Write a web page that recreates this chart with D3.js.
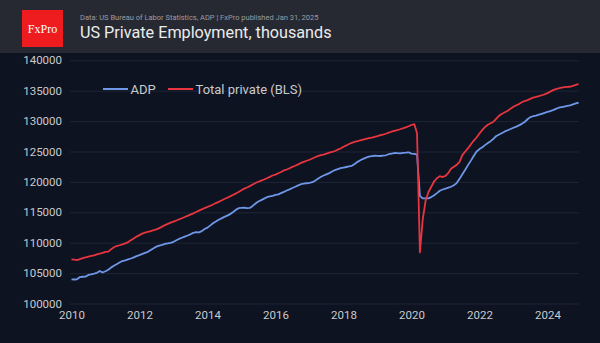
<!DOCTYPE html>
<html>
<head>
<meta charset="utf-8">
<script src="https://cdn.jsdelivr.net/npm/d3@7"></script>
<style>
  body { margin: 0; background: #0d1321; }
  svg { display: block; font-family: Roboto, "Noto Sans", sans-serif; }
</style>
</head>
<body>
<script>
// Monthly series, Jan 2010 .. Dec 2024 (thousands)
var startYear = 2010;

var adp = [
  103980, 103950, 103990, 104350, 104400, 104420, 104700, 104780, 104900, 105050, 105350, 105100,
  105300, 105550, 105900, 106200, 106450, 106750, 106980, 107100, 107250, 107400, 107580, 107800,
  107950, 108150, 108320, 108500, 108800, 109100, 109350, 109520, 109650, 109800, 109900, 109980,
  110150, 110400, 110620, 110820, 111000, 111180, 111380, 111620, 111720, 111700, 111900, 112250,
  112480, 112850, 113200, 113500, 113780, 114000, 114250, 114450, 114700, 115000, 115400, 115680,
  115720, 115750, 115700, 115720, 116050, 116450, 116780, 117000, 117250, 117480, 117620, 117720,
  117850, 117950, 118150, 118350, 118580, 118780, 119000, 119200, 119420, 119620, 119700, 119780,
  119850, 119950, 120200, 120500, 120800, 121050, 121250, 121450, 121700, 121950, 122100, 122250,
  122350, 122450, 122550, 122650, 122950, 123300, 123550, 123800, 124000, 124150, 124250, 124300,
  124280, 124260, 124320, 124380, 124550, 124650, 124750, 124720, 124700, 124780, 124820, 124870,
  124650, 124600, 124480, 117700, 117300, 117280, 117300, 117500, 117800, 118150, 118550, 118750,
  118900, 119050, 119200, 119450, 119800, 120500, 121250, 122000, 122800, 123500, 124300, 125000,
  125400, 125700, 126050, 126400, 126700, 127100, 127550, 127800, 128050, 128300, 128500, 128700,
  128900, 129100, 129300, 129550, 129850, 130300, 130650, 130800, 130900, 131050, 131200, 131350,
  131500, 131650, 131800, 132000, 132200, 132300, 132400, 132500, 132600, 132750, 132900, 133050
];

var blsPrivate = [
  107270, 107200, 107150, 107300, 107450, 107600, 107700, 107820, 107930, 108080, 108200, 108330,
  108480, 108520, 108900, 109250, 109450, 109580, 109720, 109880, 110100, 110400, 110700, 111000,
  111250, 111500, 111650, 111800, 111920, 112050, 112200, 112400, 112650, 112900, 113100, 113300,
  113480, 113650, 113850, 114020, 114220, 114420, 114620, 114830, 115060, 115280, 115480, 115700,
  115880, 116080, 116280, 116520, 116720, 116950, 117180, 117400, 117620, 117840, 118080, 118350,
  118640, 118900, 119080, 119300, 119560, 119820, 120020, 120220, 120400, 120600, 120820, 121050,
  121200, 121420, 121620, 121880, 122040, 122250, 122480, 122660, 122880, 123120, 123300, 123480,
  123640, 123850, 124050, 124240, 124400, 124500, 124640, 124800, 124920, 125080, 125300, 125500,
  125780, 126000, 126230, 126430, 126600, 126720, 126850, 126960, 127080, 127200, 127300, 127420,
  127530, 127680, 127780, 127920, 128090, 128250, 128380, 128510, 128660, 128820, 128960, 129150,
  129360, 129500, 128000, 108400, 113800, 116900, 118300, 119200, 120100, 120600, 120950, 120800,
  121000, 121500, 122150, 122500, 122800, 123300, 124400, 125000, 125550, 126200, 126800, 127300,
  127950, 128550, 129000, 129400, 129650, 129900, 130400, 130900, 131200, 131450, 131700, 132050,
  132370, 132600, 132800, 133100, 133300, 133450, 133650, 133880, 133980, 134100, 134250, 134400,
  134600, 134850, 135100, 135250, 135400, 135520, 135580, 135620, 135650, 135800, 135950, 136100
];

var seriesNames = ["ADP", "Total private (BLS)"];
var seriesColors = ["#6f97e8", "#e8353f"];
var yTicks = [100000, 105000, 110000, 115000, 120000, 125000, 130000, 135000, 140000];
var xTickYears = [2010, 2012, 2014, 2016, 2018, 2020, 2022, 2024];

var width = 600, height = 343;

var svg = d3.select("body").append("svg")
    .attr("width", width)
    .attr("height", height);

// Header band with logo and titles
svg.append("rect")
    .attr("x", 0).attr("y", 0)
    .attr("width", width).attr("height", 53)
    .attr("fill", "#262932");
svg.append("rect")
    .attr("x", 22).attr("y", 10)
    .attr("width", 41).attr("height", 37)
    .attr("fill", "#ee1b1f");
svg.append("text")
    .attr("x", 42.5).attr("y", 32.5)
    .attr("text-anchor", "middle")
    .style("font-family", "'Liberation Serif', 'DejaVu Serif', serif")
    .style("font-size", "12px")
    .attr("fill", "#ffffff")
    .text("FxPro");
svg.append("text")
    .attr("x", 80).attr("y", 20)
    .style("font-size", "7.5px")
    .attr("fill", "#9a9ca4")
    .text("Data: US Bureau of Labor Statistics, ADP \u00A6 FxPro published Jan 31, 2025");
svg.append("text")
    .attr("x", 80).attr("y", 37.5)
    .style("font-size", "16.2px")
    .attr("fill", "#ececec")
    .text("US Private Employment, thousands");

// Scales
var xScale = d3.scaleTime()
    .domain([new Date(2010, 0, 1), new Date(2025, 0, 1)])
    .range([71.5, 581.5]);
var yScale = d3.scaleLinear()
    .domain([100000, 140000])
    .range([303.5, 60.3]);

// Y axis doubles as the horizontal grid
var yAxis = svg.append("g")
    .attr("transform", "translate(70,0)")
    .call(d3.axisLeft(yScale)
        .tickValues(yTicks)
        .tickSize(-509)
        .tickPadding(8)
        .tickFormat(d3.format("d")));
yAxis.select(".domain").remove();
yAxis.selectAll(".tick line").attr("stroke", "#1e2535").attr("stroke-width", 1);
yAxis.selectAll(".tick text")
    .attr("fill", "#c9cacd")
    .style("font-size", "11.5px")
    .style("font-family", "Roboto, sans-serif");

// X axis: labels only
var xAxis = svg.append("g")
    .attr("transform", "translate(0,305)")
    .call(d3.axisBottom(xScale)
        .tickValues(xTickYears.map(function(y) { return new Date(y, 0, 1); }))
        .tickSize(0)
        .tickPadding(6)
        .tickFormat(d3.timeFormat("%Y")));
xAxis.select(".domain").remove();
xAxis.selectAll(".tick text")
    .attr("fill", "#c9cacd")
    .style("font-size", "11.5px")
    .style("font-family", "Roboto, sans-serif");

// Lines
function toPoints(values) {
    return values.map(function(v, i) {
        return {date: new Date(startYear, i, 1), value: v};
    });
}
var line = d3.line()
    .x(function(d) { return xScale(d.date); })
    .y(function(d) { return yScale(d.value); });

[adp, blsPrivate].forEach(function(values, k) {
    svg.append("path")
        .datum(toPoints(values))
        .attr("fill", "none")
        .attr("stroke", seriesColors[k])
        .attr("stroke-width", 1.8)
        .attr("stroke-linejoin", "round")
        .attr("d", line);
});

// Legend
var legendX = [103, 168];
seriesNames.forEach(function(name, k) {
    var g = svg.append("g").attr("transform", "translate(" + legendX[k] + ",89)");
    g.append("line")
        .attr("x1", 0).attr("x2", 25)
        .attr("stroke", seriesColors[k])
        .attr("stroke-width", 2);
    g.append("text")
        .attr("x", 27.5).attr("y", 4.7)
        .style("font-size", "13px")
        .attr("fill", "#c9cacd")
        .text(name);
});
</script>
</body>
</html>
